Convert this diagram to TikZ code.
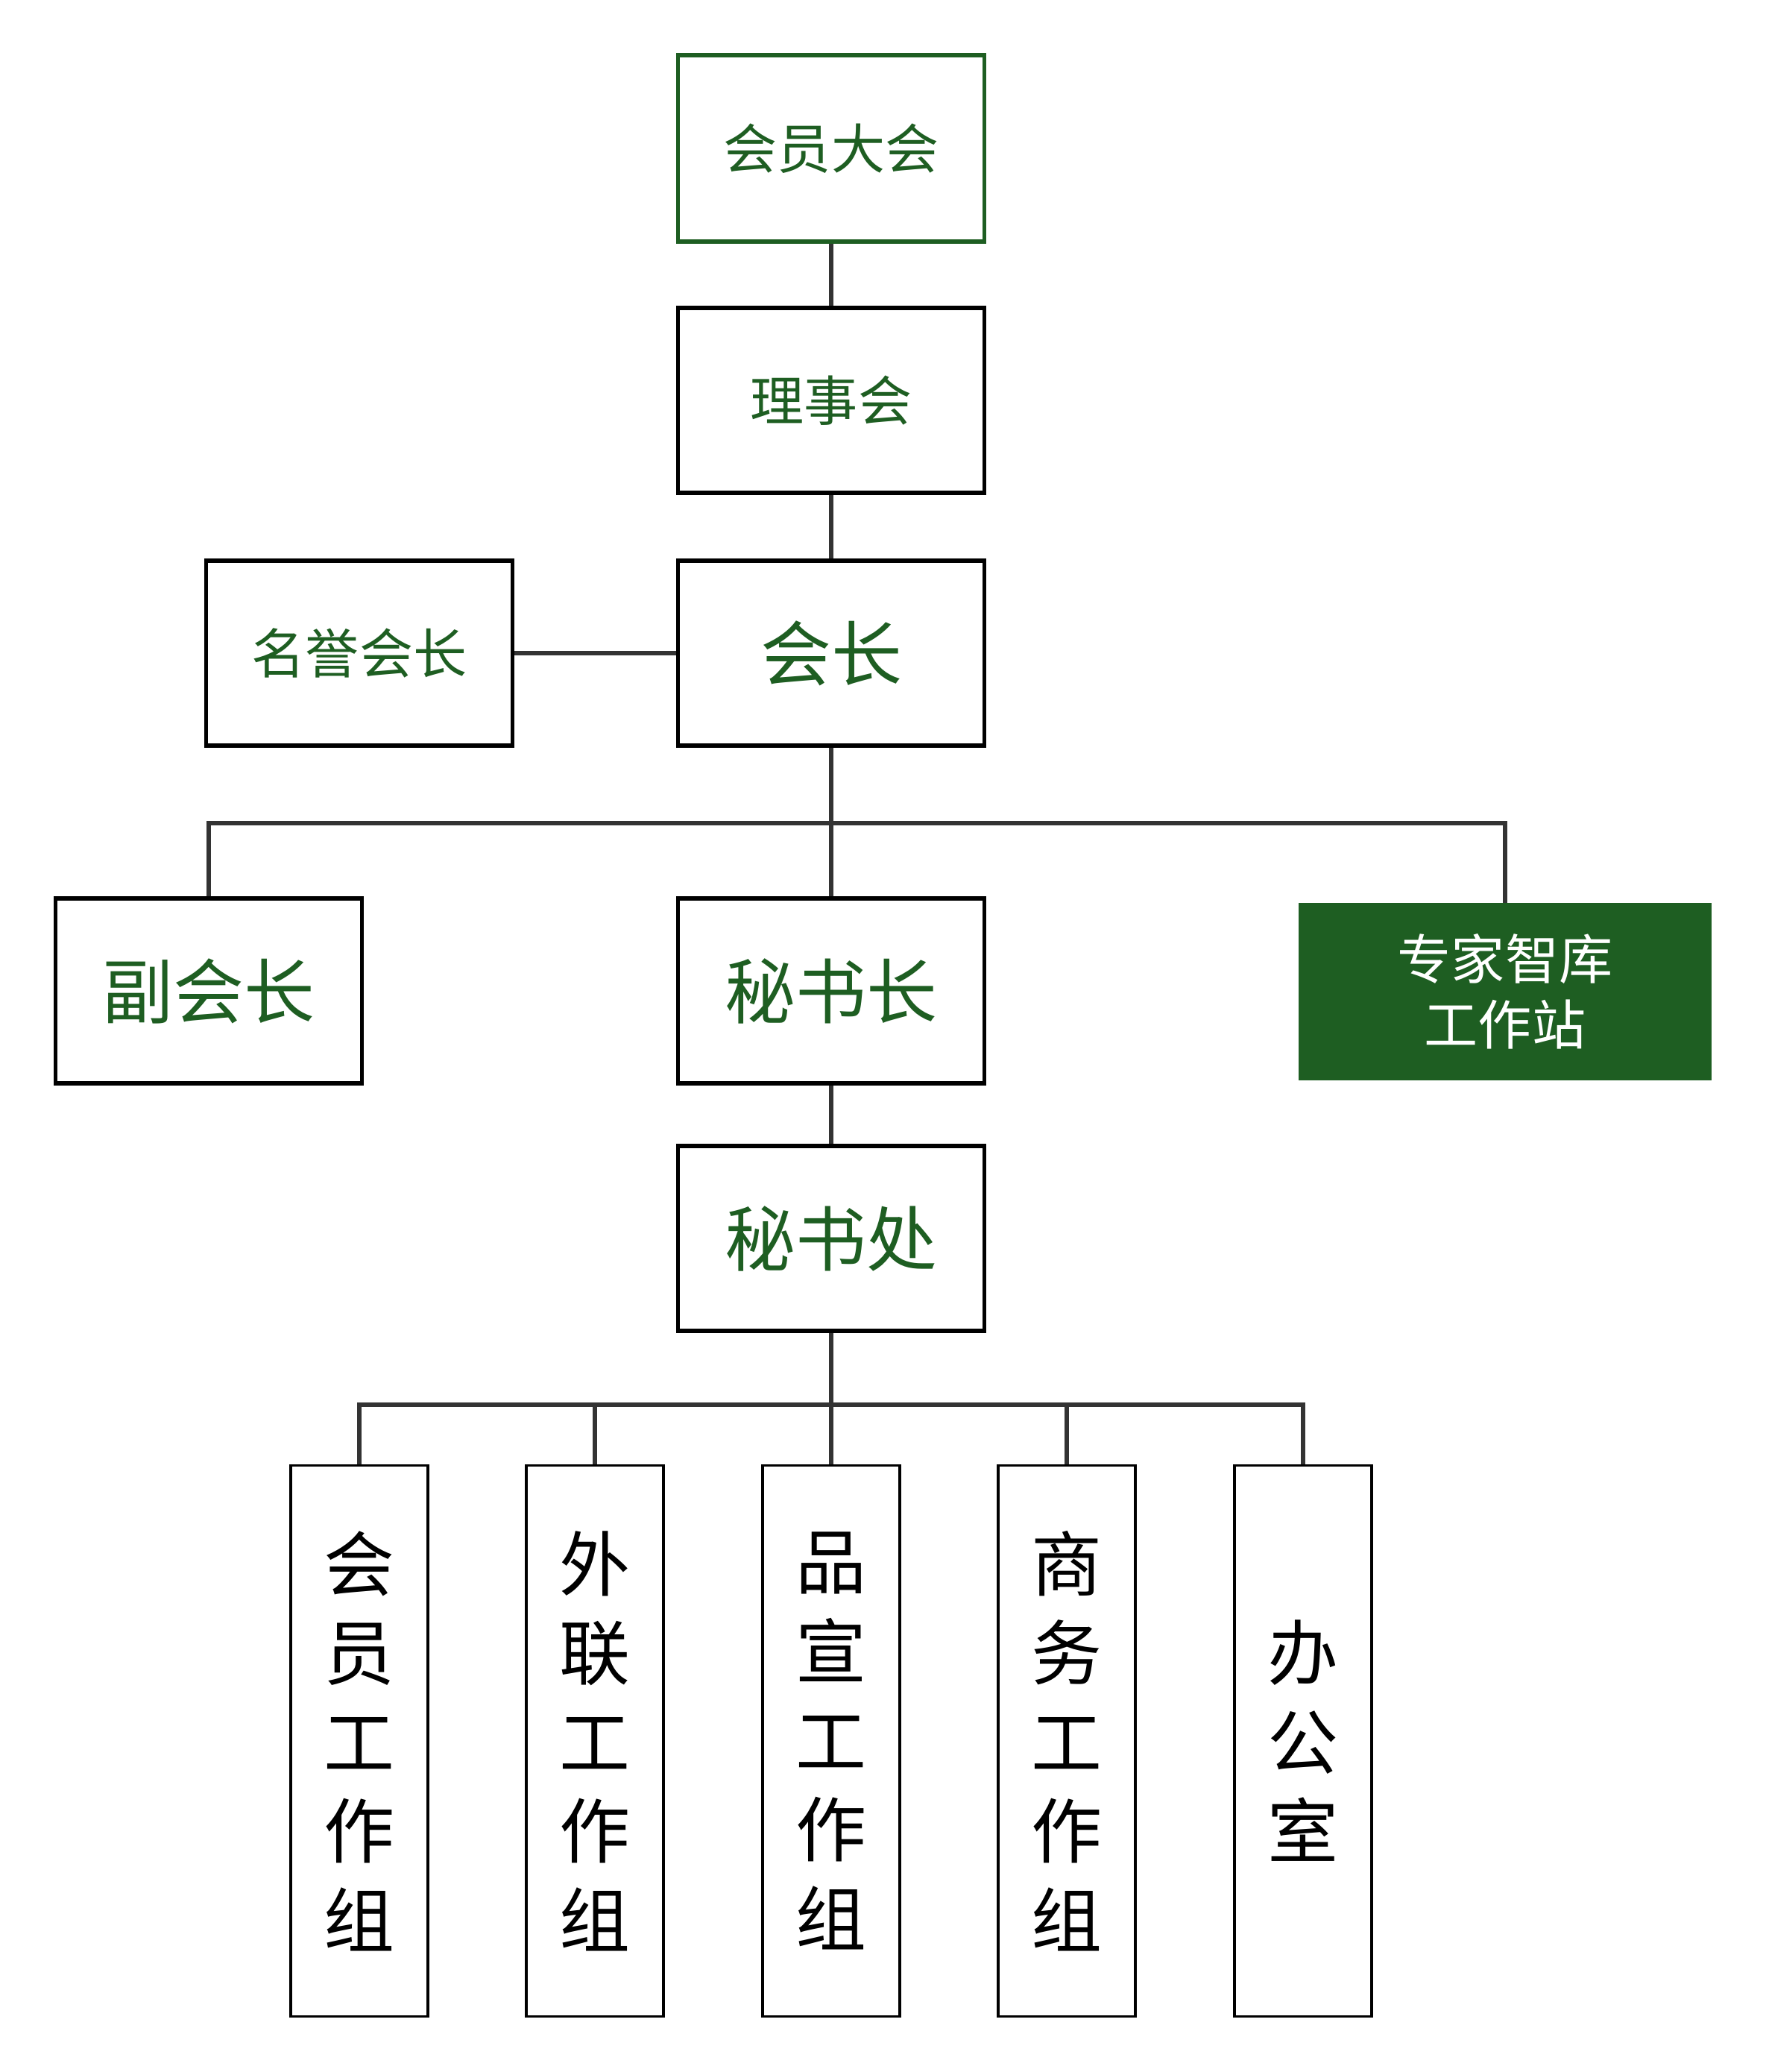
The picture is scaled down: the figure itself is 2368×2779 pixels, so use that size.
\documentclass[tikz,border=0pt]{standalone}
\usepackage{fontspec}
\newfontfamily\cjk{Noto Sans CJK SC}
\definecolor{dkgreen}{RGB}{30,94,34}
\definecolor{linegray}{RGB}{51,51,51}
\begin{document}
\begin{tikzpicture}[x=0.01cm,y=-0.01cm,
  topbox/.style={draw=black,line width=0.055cm,fill=white,minimum width=4.11cm,minimum height=2.48cm,inner sep=0pt,text=dkgreen,align=center},
  smalltxt/.style={font={\cjk\fontsize{20.5pt}{25pt}\selectfont}},
  bigtxt/.style={font={\cjk\fontsize{27pt}{32pt}\selectfont}},
  vbox/.style={draw=black,line width=0.032cm,fill=white,minimum width=1.84cm,minimum height=7.39cm,inner sep=0pt,align=center,text=black,font={\cjk\fontsize{27pt}{34pt}\selectfont}},
  conn/.style={draw=linegray,line width=0.052cm}]
\useasboundingbox (0,0) rectangle (2368,2779);
\fill[white] (0,0) rectangle (2368,2779);
% nodes
\node[topbox,smalltxt,draw=dkgreen,minimum height=2.50cm] (dahui) at (1115,199) {会员大会};
\node[topbox,smalltxt] (lishi) at (1115,537) {理事会};
\node[topbox,bigtxt] (huizhang) at (1115,876) {会长};
\node[topbox,smalltxt] (mingyu) at (482,876) {名誉会长};
\node[topbox,bigtxt] (fu) at (280,1329) {副会长};
\node[topbox,bigtxt] (mishuzhang) at (1115,1329) {秘书长};
\node[draw=none,fill=dkgreen,minimum width=5.53cm,minimum height=2.37cm,inner sep=0pt,align=center,text=white,smalltxt] (zhuanjia) at (2019,1330) {专家智库\\工作站};
\node[topbox,bigtxt] (mishuchu) at (1115,1661) {秘书处};
\node[vbox] (b1) at (482,2335) {会\\员\\工\\作\\组};
\node[vbox] (b2) at (798,2335) {外\\联\\工\\作\\组};
\node[vbox] (b3) at (1115,2335) {品\\宣\\工\\作\\组};
\node[vbox] (b4) at (1431,2335) {商\\务\\工\\作\\组};
\node[vbox] (b5) at (1748,2335) {办\\公\\室};
% connectors
\coordinate (bus1) at (1115,1104);
\coordinate (bus2) at (1115,1884);
\draw[conn] (dahui.south) -- (lishi.north);
\draw[conn] (lishi.south) -- (huizhang.north);
\draw[conn] (huizhang.west) -- (mingyu.east);
\draw[conn] (huizhang.south) -- (bus1);
\draw[conn] (fu.north) |- (bus1) -| (zhuanjia.north);
\draw[conn] (bus1) -- (mishuzhang.north);
\draw[conn] (mishuzhang.south) -- (mishuchu.north);
\draw[conn] (mishuchu.south) -- (bus2);
\draw[conn] (b1.north) |- (bus2) -| (b5.north);
\draw[conn] (b2.north) |- (bus2);
\draw[conn] (b3.north) -- (bus2);
\draw[conn] (b4.north) |- (bus2);
\end{tikzpicture}
\end{document}
